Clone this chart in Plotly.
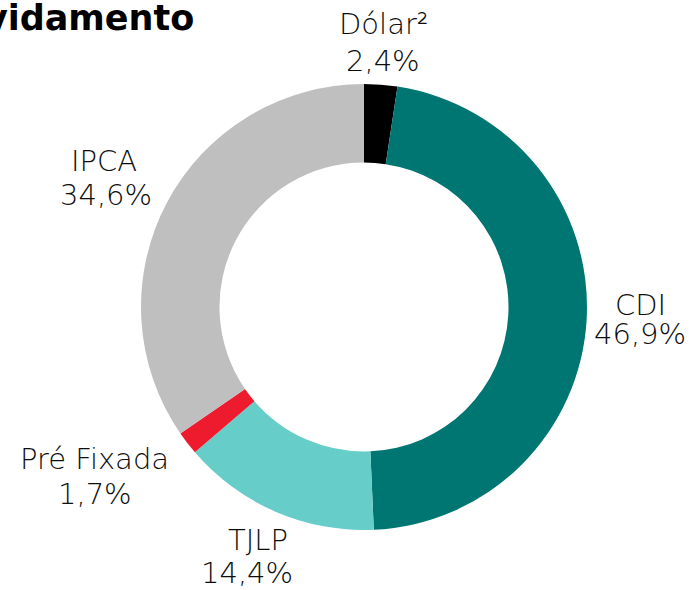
import plotly.graph_objects as go

# Data
categories = ["Dólar²", "CDI", "TJLP", "Pré Fixada", "IPCA"]
shares = [2.4, 46.9, 14.4, 1.7, 34.6]
value_labels = ["2,4%", "46,9%", "14,4%", "1,7%", "34,6%"]
title_text = "Endividamento"

# Styles / layout
colors = ["#000000", "#007672", "#66CDC8", "#EE1B2E", "#BFBFBF"]
W, H = 690, 590
cx, cy, R = 364, 307, 223
FONT = "Century Gothic, DejaVu Sans, sans-serif"
TXT = "#0D0D0D"
LSIZE = 29

# label line positions in pixels: (name_x, name_y, value_x, value_y)
label_pos = [
    (383, 24, 383, 61),
    (640, 305, 640, 334),
    (258, 540, 247, 573),
    (94, 459, 95, 494),
    (104, 161, 106, 195),
]

fig = go.Figure(go.Pie(
    labels=categories,
    values=shares,
    marker=dict(colors=colors, line=dict(width=0)),
    hole=0.648,
    sort=False,
    direction="clockwise",
    rotation=0,
    textinfo="none",
    showlegend=False,
    domain=dict(x=[(cx - R) / W, (cx + R) / W],
                y=[(H - cy - R) / H, (H - cy + R) / H]),
))

ann = []
for name, val, (nx, ny, vx, vy) in zip(categories, value_labels, label_pos):
    ann.append(dict(text=name, x=nx / W, y=1 - ny / H, xref="paper", yref="paper",
                    xanchor="center", yanchor="middle", showarrow=False,
                    font=dict(family=FONT, size=LSIZE, color=TXT, weight=300)))
    ann.append(dict(text=val, x=vx / W, y=1 - vy / H, xref="paper", yref="paper",
                    xanchor="center", yanchor="middle", showarrow=False,
                    font=dict(family=FONT, size=LSIZE, color=TXT, weight=300)))

ann.append(dict(text="<b>" + title_text + "</b>", x=196 / W, y=1 - 18 / H,
                xref="paper", yref="paper", xanchor="right", yanchor="middle",
                showarrow=False, font=dict(family=FONT, size=35, color="#000000")))

fig.update_layout(
    width=W, height=H,
    margin=dict(l=0, r=0, t=0, b=0),
    paper_bgcolor="white",
    plot_bgcolor="white",
    annotations=ann,
)

fig.write_html("out.html", config={"displayModeBar": False},
               post_script="document.body.style.margin='0';document.body.style.padding='0';")
